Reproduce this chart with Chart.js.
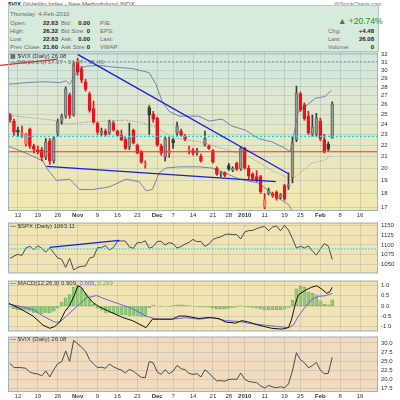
<!DOCTYPE html>
<html>
<head>
<meta charset="utf-8">
<script src="https://cdn.jsdelivr.net/npm/chart.js@4.4.0/dist/chart.umd.min.js"></script>
<style>
  body { margin: 0; width: 400px; height: 400px; background: #fff; position: relative; overflow: hidden;
         font-family: 'Liberation Sans', Arial, sans-serif; color: #333; }
  canvas { position: absolute; left: 0; }
  .t { position: absolute; white-space: nowrap; font-size: 6px; line-height: 8px; }
  .lab { color: #6a6a6a; }
  .val { color: #222; font-weight: bold; text-align: right; }
  #info { position: absolute; left: 8px; top: 5px; width: 369px; height: 45px; background: #d7ebdc; border: 1px solid #b2cbb8; }
  .leg { position: absolute; font-size: 6px; line-height: 7px; color: #333; white-space: nowrap; }
</style>
</head>
<body>

<div class="t" style="left:8px;top:0px;font-size:6px;color:#555"><b style="color:#222">$VIX</b> (Volatility Index - New Methodology) INDX</div>
<div class="t" style="left:334px;top:0px;font-size:5.5px;color:#777">@StockCharts.com</div>

<div id="info"></div>
<div class="t lab" style="left:10px;top:10px">Thursday &nbsp;4-Feb-2010</div>
<div class="t lab" style="left:10px;top:19px">Open:</div>
<div class="t lab" style="left:10px;top:27px">High:</div>
<div class="t lab" style="left:10px;top:35px">Low:</div>
<div class="t lab" style="left:10px;top:43px">Prev Close:</div>
<div class="t val" style="left:38px;width:20px;top:19px">22.63</div>
<div class="t val" style="left:38px;width:20px;top:27px">26.32</div>
<div class="t val" style="left:38px;width:20px;top:35px">22.63</div>
<div class="t val" style="left:38px;width:20px;top:43px">21.60</div>
<div class="t lab" style="left:61px;top:19px">Bid:</div>
<div class="t lab" style="left:61px;top:27px">Bid Size:</div>
<div class="t lab" style="left:61px;top:35px">Ask:</div>
<div class="t lab" style="left:61px;top:43px">Ask Size:</div>
<div class="t val" style="left:74px;width:16px;top:19px">0.00</div>
<div class="t val" style="left:74px;width:16px;top:27px">0</div>
<div class="t val" style="left:74px;width:16px;top:35px">0.00</div>
<div class="t val" style="left:74px;width:16px;top:43px">0</div>
<div class="t lab" style="left:100px;top:19px">P/E:</div>
<div class="t lab" style="left:100px;top:27px">EPS:</div>
<div class="t lab" style="left:100px;top:35px">Last:</div>
<div class="t lab" style="left:100px;top:43px">VWAP:</div>
<div class="t" style="left:338px;top:16px;font-size:8.5px;line-height:11px;color:#2a8a2a">&#9650; +20.74%</div>
<div class="t lab" style="left:328px;top:27px">Chg:</div>
<div class="t lab" style="left:328px;top:35px">Last:</div>
<div class="t lab" style="left:328px;top:43px">Volume:</div>
<div class="t val" style="left:350px;width:24px;top:27px">+4.48</div>
<div class="t val" style="left:350px;width:24px;top:35px">26.08</div>
<div class="t val" style="left:350px;width:24px;top:43px">0</div>

<canvas id="main" width="400" height="174" style="top:46px"></canvas>
<canvas id="spx" width="400" height="64" style="top:216px"></canvas>
<canvas id="macd" width="400" height="64" style="top:274px"></canvas>
<canvas id="vix" width="400" height="70" style="top:330px"></canvas>

<div class="leg" style="left:10px;top:53px">&#9641; $VIX (Daily) 26.08</div>
<div class="leg" style="left:10px;top:59px;color:#777">&mdash; BB(20,2.0) 17.27 - 21.27 - 25.43</div>
<div class="leg" style="left:10px;top:223px">&mdash; $SPX (Daily) 1063.11</div>
<div class="leg" style="left:10px;top:280px">&mdash; MACD(12,26,9) 0.909, <span style="color:#6a5ad8">0.609</span>, <span style="color:#78b060">0.299</span></div>
<div class="leg" style="left:10px;top:336px">&mdash; $VIX (Daily) 26.08</div>

<script>
// trading days on the chart (the last ones are still empty)
const days = [
  '10/08','10/09','10/12','10/13','10/14','10/15','10/16','10/19','10/20','10/21','10/22','10/23',
  '10/26','10/27','10/28','10/29','10/30',
  '11/02','11/03','11/04','11/05','11/06','11/09','11/10','11/11','11/12','11/13','11/16','11/17',
  '11/18','11/19','11/20','11/23','11/24','11/25','11/27','11/30',
  '12/01','12/02','12/03','12/04','12/07','12/08','12/09','12/10','12/11','12/14','12/15','12/16',
  '12/17','12/18','12/21','12/22','12/23','12/24','12/28','12/29','12/30','12/31',
  '01/04','01/05','01/06','01/07','01/08','01/11','01/12','01/13','01/14','01/15','01/19','01/20',
  '01/21','01/22','01/25','01/26','01/27','01/28','01/29',
  '02/01','02/02','02/03','02/04',
  '02/05','02/08','02/09','02/10','02/11','02/12','02/16','02/17','02/18','02/19','02/22'
];
const xTickDays = ['10/12','10/19','10/26','11/02','11/09','11/16','11/23','12/01','12/07','12/14',
  '12/21','12/28','01/04','01/11','01/19','01/25','02/01','02/08','02/16'];
const xTickText = ['12','19','26','Nov','9','16','23','Dec','7','14','21','28','2010','11','19','25','Feb','8','16'];
const boldTicks = ['Nov','Dec','2010','Feb'];

// $VIX daily candles
const vixOpen = [24.9,24.3,23.4,23.0,22.1,23.5,21.9,21.6,21.6,20.9,22.4,20.6,23.1,24.3,24.8,27.1,24.9,
  31.0,30.1,28.6,27.2,25.6,24.1,23.1,23.3,23.1,24.1,23.3,22.9,22.5,21.8,23.4,22.0,21.4,20.3,25.7,25.0,
  24.6,21.9,20.9,21.3,22.5,23.1,23.3,22.8,21.4,21.5,21.3,21.0,22.0,21.9,21.5,20.0,19.5,19.6,20.2,19.8,20.4,19.9,
  21.7,20.0,19.5,19.3,19.3,17.0,18.0,18.0,18.1,17.7,18.6,18.5,19.2,22.5,27.2,26.0,24.8,23.0,23.0,
  24.3,22.5,22.1,22.63];
const vixHigh = [25.1,24.5,23.7,23.8,23.1,23.6,22.1,21.9,21.8,22.6,22.6,22.8,24.5,25.0,28.0,27.3,31.1,
  31.5,30.5,28.9,27.4,26.4,24.2,23.6,23.5,24.4,24.3,23.4,23.4,22.7,24.1,23.5,22.1,21.5,20.6,25.9,25.3,
  24.7,22.1,22.8,22.8,22.6,24.2,23.5,23.0,21.9,21.7,21.7,21.2,23.3,22.0,21.6,20.1,19.7,19.7,20.4,20.1,20.5,21.8,
  21.8,20.2,19.6,19.8,19.4,18.0,18.4,18.1,18.2,18.0,18.7,19.6,22.8,28.1,27.4,26.2,25.3,24.9,25.1,
  24.6,23.0,22.3,26.32];
const vixLow = [24.2,22.9,22.8,22.7,21.9,21.7,21.3,21.2,20.6,20.7,20.3,20.4,22.8,24.0,24.6,24.6,24.8,
  29.4,28.5,27.5,25.2,24.1,23.0,22.9,22.8,23.0,23.3,22.8,22.4,21.6,21.6,22.1,21.2,20.4,20.0,23.0,24.2,
  21.9,21.1,20.6,20.9,21.7,22.9,22.8,22.4,21.2,21.1,21.1,20.5,21.9,21.6,20.4,19.4,19.3,19.3,19.8,19.7,19.8,19.8,
  19.9,19.1,19.0,18.9,18.0,16.9,17.9,17.7,17.5,17.6,17.5,18.3,18.8,22.3,25.3,24.4,23.0,22.8,22.8,
  22.4,21.3,21.5,22.63];
const vixClose = [24.4,23.2,23.2,23.15,23.0,21.9,21.6,21.4,20.9,22.3,20.6,22.6,24.3,24.8,27.8,24.9,30.7,
  29.8,28.8,27.7,25.4,24.2,23.2,23.3,23.0,24.2,23.4,22.9,22.5,21.7,22.7,22.2,21.3,20.5,20.4,24.9,24.5,
  22.0,21.3,22.6,21.5,22.2,23.8,22.9,22.6,21.6,21.3,21.5,20.6,22.6,21.7,20.5,19.5,19.6,19.4,19.9,20.0,19.9,21.7,
  20.0,19.35,19.16,19.06,18.13,17.55,18.25,17.85,17.63,17.91,17.58,18.68,22.27,27.31,25.41,24.55,23.14,23.73,24.62,
  22.59,21.48,21.60,26.08];
const vixTicks = [17,18,19,20,21,22,23,24,25,26,27,28,29,30,31,32];

// Bollinger bands (20,2): [day, value]
const bbUpper = [[-0.5,28.3],[4.2,28.5],[8.3,28.6],[12.5,28.5],[14.2,28.7],[15,28.3],[16.2,29.3],[17.5,30.2],
  [19.2,30.5],[22.5,30.6],[25.8,30.4],[30.8,30.2],[35,29.7],[36.7,28.3],[38.3,26.3],[40,25.3],[42.5,24.8],
  [47.5,24.8],[50,24.3],[53.3,24.5],[55.8,23.8],[59.2,23.4],[62.5,22.6],[65.8,22.3],[69.2,21.7],[70.4,21.4],
  [71.2,22.7],[72.5,25.3],[74.2,25.8],[76.7,26.7],[79.2,26.9],[80.8,27.6]];
const bbMiddle = [[-0.5,24.9],[5.8,24.6],[10.8,24.4],[14.2,24.0],[19.2,24.2],[24.2,24.3],[29.2,24.4],[32.5,24.2],
  [36.7,23.7],[40.8,22.7],[44.2,22.5],[47.5,22.3],[52.5,21.8],[55.8,21.4],[59.2,21.1],[62.5,20.5],[65.8,19.8],
  [69.2,19.3],[70.8,19.0],[72.5,19.5],[75.8,20.4],[79.2,20.7],[80.8,21.1]];
const bbLower = [[-0.5,21.9],[2.5,21.5],[5.8,21.0],[8.3,20.6],[9.2,20.0],[11.7,19.0],[15,19.1],[17.5,18.3],
  [20.8,18.3],[25,18.5],[29.2,19.1],[32.5,18.9],[34.2,18.2],[35.8,18.3],[37.5,19.6],[39.2,20.0],[42.5,20.1],
  [47.5,20.1],[50.8,20.0],[54.2,19.6],[57.5,19.1],[62.5,18.8],[65.8,18.0],[68.3,17.5],[70,17.2],[72,16.3]];

// hand drawn lines on the price panel
const trendRed = [[-2.5,30.6],[12,31.4]];
const trendBlueTop = [[17.1,32.0],[70,19.53]];
const trendBlueLow = [[9.2,20.14],[66.8,18.91]];
const levelRed = 21.4;
const levelsCyan = [31.1, 22.8];

// $SPX daily close
const spxClose = [1065.48,1071.49,1076.19,1073.19,1092.02,1096.56,1087.68,1097.91,1091.06,1081.40,1092.91,1079.60,
  1066.95,1063.41,1042.63,1066.11,1036.19,
  1042.88,1045.41,1046.50,1066.63,1069.30,1093.08,1093.01,1098.51,1087.24,1093.48,1109.30,1110.32,1109.80,
  1094.90,1091.38,1106.24,1105.65,1110.63,1091.49,1095.63,
  1108.86,1109.24,1099.92,1105.98,1103.25,1091.94,1095.95,1102.35,1106.41,1114.11,1107.93,1109.18,1096.08,
  1102.47,1114.05,1118.02,1120.59,1126.48,1127.78,1126.20,1126.42,1115.10,
  1132.99,1136.52,1137.14,1141.69,1144.98,1146.98,1136.22,1145.68,1148.46,1136.03,1150.23,1138.04,1116.48,
  1091.76,1096.78,1092.17,1097.50,1084.53,1073.87,
  1089.19,1103.32,1097.28,1063.11];
const spxTicks = [1050,1075,1100,1125,1150];
const spxTrend = [[10,1094],[27.5,1111.6]];
const spxCyan = 1090;

// MACD(12,26,9) of $VIX: [day, value]
const macdLine = [[-0.5,0.15],[2.5,-0.12],[5.8,-0.48],[8.3,-0.92],[10,-1.07],[11.2,-0.99],[12.5,-0.77],
  [13.8,-0.26],[15,0.03],[16.2,0.54],[17.1,0.98],[17.9,0.91],[19.2,0.54],[20.8,0.18],[22.5,-0.04],[25,-0.26],
  [28.3,-0.55],[30.8,-0.70],[34.2,-1.04],[35.8,-0.63],[37.5,-0.63],[40.8,-0.63],[42.5,-0.48],[44.2,-0.48],
  [47.5,-0.60],[50,-0.55],[52.5,-0.60],[54.2,-0.77],[56.7,-0.82],[58.3,-0.70],[60,-0.77],[62.5,-0.92],
  [65.8,-1.07],[68.3,-1.11],[70,-1.04],[70.8,-0.63],[71.7,0.10],[72.5,0.54],[74.2,0.76],[75.8,0.91],
  [77.1,0.98],[78.3,0.83],[79.6,0.62],[80.4,0.69],[81,0.909]];
const macdSignal = [[-0.5,0.10],[2.5,-0.01],[5.8,-0.16],[8.3,-0.48],[11.2,-0.77],[12.5,-0.77],[14.2,-0.48],
  [16.7,-0.04],[19.2,0.40],[21.7,0.51],[24.2,0.32],[27.5,0.10],[30.8,-0.12],[34.2,-0.48],[36.7,-0.63],
  [40.8,-0.63],[44.2,-0.56],[47.5,-0.63],[50.8,-0.55],[54.2,-0.70],[57.5,-0.74],[60.8,-0.85],[64.2,-0.92],
  [67.5,-0.99],[70,-1.04],[71.2,-0.92],[72.5,-0.48],[74.2,-0.04],[75.8,0.32],[77.5,0.47],[79.2,0.50],[81,0.609]];
const macdHist = [-0.05,-0.12,-0.17,-0.2,-0.2,-0.25,-0.3,-0.3,-0.35,-0.3,-0.33,-0.25,-0.1,0.2,0.4,0.55,0.9,
  0.98,0.85,0.6,0.35,0.08,-0.1,-0.2,-0.3,-0.3,-0.35,-0.4,-0.42,-0.42,-0.45,-0.45,-0.45,-0.5,-0.5,-0.08,0.05,
  0.0,-0.02,0.0,-0.02,0.02,0.06,0.06,0.04,0.02,0.0,-0.02,-0.05,-0.04,-0.05,-0.1,-0.14,-0.15,-0.14,-0.1,-0.06,-0.05,0.02,
  -0.02,-0.05,-0.06,-0.1,-0.14,-0.2,-0.18,-0.17,-0.18,-0.17,-0.15,-0.06,0.28,0.83,0.95,0.9,0.69,0.62,0.54,
  0.25,0.1,0.06,0.299];
const macdTicks = [-1, -0.5, 0, 0.5, 1];

const vixLineTicks = [17.5, 20, 22.5, 25, 27.5, 30];

const RED = '#e8141c';
const DARK = '#3a3a3a';
const GRID = 'rgba(110,130,140,0.22)';
const AXIS_W = 22;

// fill and frame each panel
const panelBg = {
  id: 'panelBg',
  beforeDraw(chart, args, opts) {
    const { ctx, chartArea: a } = chart;
    let fill = opts.color;
    if (opts.top) {
      fill = ctx.createLinearGradient(0, a.top, 0, a.bottom);
      fill.addColorStop(0, opts.top);
      fill.addColorStop(1, opts.bottom);
    }
    ctx.save();
    ctx.fillStyle = fill;
    ctx.fillRect(a.left, a.top, a.width, a.height);
    ctx.restore();
  },
  afterDraw(chart) {
    const { ctx, chartArea: a } = chart;
    ctx.save();
    ctx.strokeStyle = '#9fb3bd';
    ctx.lineWidth = 1;
    ctx.strokeRect(a.left + 0.5, a.top + 0.5, a.width - 1, a.height - 1);
    ctx.restore();
  }
};
Chart.register(panelBg);

function xScale(showLabels, h) {
  return {
    type: 'linear',
    min: -0.5,
    max: days.length - 0.5,
    offset: false,
    afterBuildTicks: (s) => { s.ticks = xTickDays.map((d) => ({ value: days.indexOf(d) })); },
    afterFit: (s) => { s.height = h; },
    ticks: {
      display: showLabels,
      autoSkip: false,
      maxRotation: 0,
      padding: 1,
      color: '#333',
      font: (c) => ({ size: 6, weight: boldTicks.includes(xTickText[c.index]) ? 'bold' : 'normal' }),
      callback: (v, k) => xTickText[k],
    },
    grid: { color: GRID, drawTicks: false, offset: false },
    border: { display: false },
  };
}

function yScale(extra, labels) {
  return Object.assign({
    position: 'right',
    afterFit: (s) => { s.width = AXIS_W; },
    afterBuildTicks: (s) => { s.ticks = labels.map((v) => ({ value: v })); },
    grid: { color: GRID, drawTicks: false },
    border: { display: false },
  }, extra);
}

function tickStyle(fmt) {
  return { autoSkip: false, padding: 3, color: '#333', font: { size: 6 }, callback: fmt };
}

function lineSet(points, color, width, more) {
  return Object.assign({
    type: 'line',
    data: points.map((p) => ({ x: p[0], y: p[1] })),
    borderColor: color,
    borderWidth: width,
    pointRadius: 0,
    tension: 0,
    order: 0,
  }, more || {});
}

function levelSet(y, color, width, dash) {
  return lineSet([[-0.5, y], [days.length - 0.5, y]], color, width, { borderDash: dash || [] });
}

// candle colours: hollow when close > open, red when close < previous close
const candleColor = vixClose.map((c, i) => (i > 0 && c >= vixClose[i - 1] ? DARK : RED));
const candleFilled = vixClose.map((c, i) => c < vixOpen[i]);

const bodies = vixClose.map((c, i) => ({ x: i, y: [Math.min(c, vixOpen[i]), Math.max(c, vixOpen[i])] }));
const upperWicks = vixClose.map((c, i) => ({ x: i, y: [Math.max(c, vixOpen[i]), vixHigh[i]] }));
const lowerWicks = vixClose.map((c, i) => ({ x: i, y: [vixLow[i], Math.min(c, vixOpen[i])] }));

function baseOptions(pad, bg, scales) {
  return {
    responsive: false,
    animation: false,
    events: [],
    layout: { padding: Object.assign({ left: 8, right: 0 }, pad) },
    scales: scales,
    plugins: { legend: { display: false }, tooltip: { enabled: false }, panelBg: bg },
  };
}

// price panel
new Chart(document.getElementById('main'), {
  type: 'bar',
  data: {
    datasets: [
      lineSet(trendRed, '#e02828', 1.3, { clip: false }),
      lineSet(trendBlueTop, '#1a1ae0', 1.3),
      lineSet(trendBlueLow, '#1a1ae0', 1.3),
      levelSet(levelRed, '#f03030', 1.2),
      levelSet(levelsCyan[0], '#10d8e8', 1.2, [2, 2]),
      levelSet(levelsCyan[1], '#10d8e8', 1.2, [2, 2]),
      lineSet(bbUpper, '#7880b0', 1, { order: 3 }),
      lineSet(bbMiddle, '#8c8c8c', 1, { order: 3, borderDash: [1, 1.5] }),
      lineSet(bbLower, '#7880b0', 1, { order: 3 }),
      {
        data: upperWicks, grouped: false, barThickness: 1, order: 2,
        backgroundColor: candleColor, borderWidth: 0,
      },
      {
        data: lowerWicks, grouped: false, barThickness: 1, order: 2,
        backgroundColor: candleColor, borderWidth: 0,
      },
      {
        data: bodies, grouped: false, barThickness: 3, order: 1, minBarLength: 1,
        backgroundColor: candleColor.map((c, i) => (candleFilled[i] ? c : 'rgba(0,0,0,0)')),
        borderColor: candleColor.map((c, i) => (candleFilled[i] ? c : (c === RED ? '#f07060' : '#777'))),
        borderWidth: 1, borderSkipped: false,
      },
    ],
  },
  options: baseOptions({ top: 6 }, { top: '#d3e8de', bottom: '#f3e7ae' }, {
    x: xScale(true, 9),
    y: yScale({ type: 'logarithmic', min: 16.74, max: 32.27, ticks: tickStyle((v) => String(v)) }, vixTicks),
  }),
});

// $SPX panel
new Chart(document.getElementById('spx'), {
  type: 'line',
  data: {
    datasets: [
      levelSet(spxCyan, '#10d8e8', 1, [1.5, 1.5]),
      lineSet(spxTrend, '#1a1ae0', 1.3),
      lineSet(spxClose.map((v, i) => [i, v]), '#4a4a4a', 1),
    ],
  },
  options: baseOptions({ top: 6, bottom: 2 }, { color: '#f1e3b3' }, {
    x: xScale(false, 0),
    y: yScale({ type: 'linear', min: 1027.5, max: 1156.9, ticks: tickStyle((v) => String(v)) }, spxTicks),
  }),
});

// MACD panel
new Chart(document.getElementById('macd'), {
  type: 'bar',
  data: {
    datasets: [
      lineSet(macdLine, '#111', 1),
      lineSet(macdSignal, '#7062e0', 1),
      {
        data: macdHist.map((v, i) => ({ x: i, y: v })), barThickness: 3, order: 2,
        backgroundColor: '#93c97b', borderColor: '#6aa35a', borderWidth: 0.5, borderSkipped: false,
      },
    ],
  },
  options: baseOptions({ top: 4, bottom: 4 }, { color: '#f1e3b3' }, {
    x: xScale(false, 0),
    y: yScale({ type: 'linear', min: -1.22, max: 1.23, ticks: tickStyle((v) => v.toFixed(1)) }, macdTicks),
  }),
});

// $VIX close line panel
new Chart(document.getElementById('vix'), {
  type: 'line',
  data: {
    datasets: [lineSet(vixClose.map((v, i) => [i, v]), '#4a4a4a', 1)],
  },
  options: baseOptions({ top: 4 }, { color: '#f2dcc0' }, {
    x: xScale(true, 8),
    y: yScale({ type: 'linear', min: 16.44, max: 31.77, ticks: tickStyle((v) => v.toFixed(1)) }, vixLineTicks),
  }),
});
</script>
</body>
</html>
